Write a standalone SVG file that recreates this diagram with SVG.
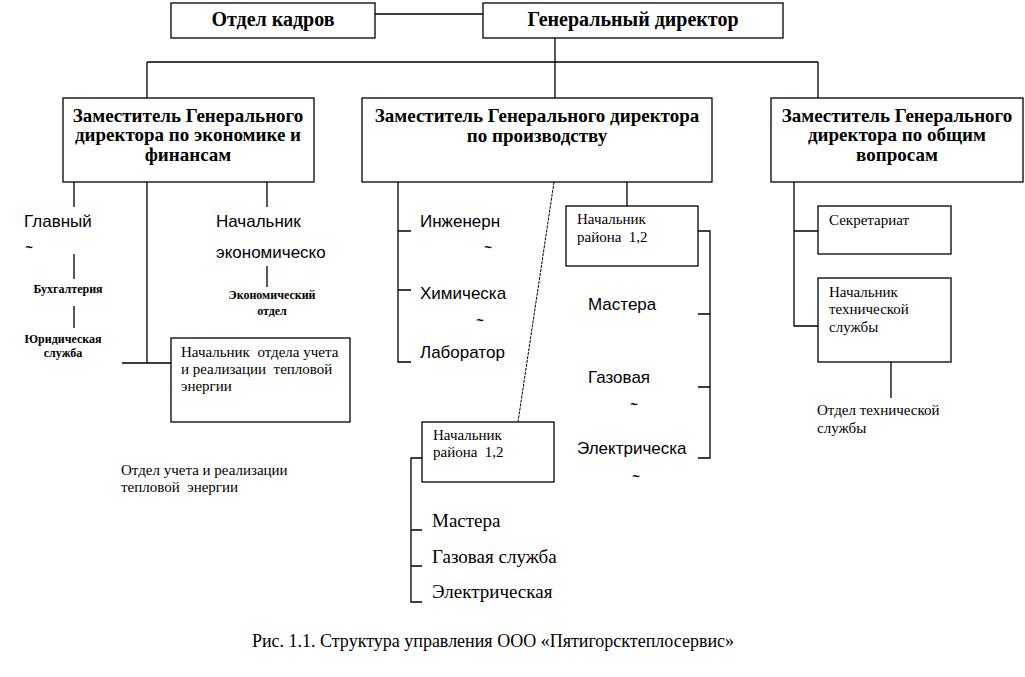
<svg xmlns="http://www.w3.org/2000/svg" width="1025" height="677" viewBox="0 0 1025 677">
<style>
text{white-space:pre}
.box{fill:#fff;stroke:#000;stroke-width:1.3}
.ln{fill:none;stroke:#000;stroke-width:1.3}
.hb{font-family:"Liberation Serif","Times New Roman",serif;font-weight:bold;font-size:19px;fill:#000;text-anchor:middle}
.sb{font-family:"Liberation Serif","Times New Roman",serif;font-weight:bold;font-size:12px;fill:#000;text-anchor:middle}
.ss{font-family:"Liberation Sans",Arial,sans-serif;font-size:17px;fill:#000}
.sm{font-family:"Liberation Serif","Times New Roman",serif;font-size:15px;fill:#000}
.sl{font-family:"Liberation Serif","Times New Roman",serif;font-size:19px;fill:#000}
.tl{font-family:"Liberation Sans",Arial,sans-serif;font-size:13px;font-weight:bold;fill:#000;text-anchor:middle}
</style>
<rect width="1025" height="677" fill="#fff"/>
<g id="connectors">
<path class="ln" d="M375 14H483M555 38V98M147 62H818M147 62V98M818 62V98"/>
<path class="ln" d="M74 182V207M147 182V363M267 182V207M74 254V279M74 306V328M267 266V287M122 363H171"/>
<path class="ln" d="M398 182V362H411M398 231H411M398 290H411M627 182V206M698 231H710V458H698M698 314H710M698 387H710"/>
<path class="ln" d="M554 182L518 422" style="stroke-width:1;stroke-dasharray:3 1"/>
<path class="ln" d="M422 458H411V602H422M411 530H422M411 566H422"/>
<path class="ln" d="M794 182V326H818M794 231H818M891 362V398"/>
</g>
<g id="otdel-kadrov"><rect class="box" x="171" y="3" width="204" height="35"/><text class="hb" x="273" y="26" style="font-size:20px">Отдел кадров</text></g>
<g id="gen-director"><rect class="box" x="483" y="3" width="300" height="35"/><text class="hb" x="633" y="26" style="font-size:20px">Генеральный директор</text></g>
<g id="zam-econ"><rect class="box" x="63" y="98" width="251" height="84"/><text class="hb" x="188" y="122">Заместитель Генерального</text><text class="hb" x="188" y="141">директора по экономике и</text><text class="hb" x="188" y="161">финансам</text></g>
<g id="zam-prod"><rect class="box" x="362" y="98" width="350" height="84"/><text class="hb" x="537" y="122">Заместитель Генерального директора</text><text class="hb" x="537" y="142">по производству</text></g>
<g id="zam-general"><rect class="box" x="771" y="98" width="252" height="84"/><text class="hb" x="897" y="122">Заместитель Генерального</text><text class="hb" x="897" y="141">директора по общим</text><text class="hb" x="897" y="161">вопросам</text></g>
<g id="glavny"><text class="ss" x="24" y="227">Главный</text><text class="tl" x="29" y="252">~</text></g>
<g id="buh"><text class="sb" x="68" y="293">Бухгалтерия</text></g>
<g id="yur"><text class="sb" x="63" y="343">Юридическая</text><text class="sb" x="63" y="357">служба</text></g>
<g id="nach-econ"><text class="ss" x="216" y="227">Начальник</text><text class="ss" x="216" y="258">экономическо</text></g>
<g id="econ-otdel"><text class="sb" x="272" y="299">Экономический</text><text class="sb" x="272" y="315">отдел</text></g>
<g id="nach-uchet"><rect class="box" x="171" y="338" width="179" height="84"/><text class="sm" x="181" y="357">Начальник  отдела учета</text><text class="sm" x="181" y="374">и реализации  тепловой</text><text class="sm" x="181" y="391">энергии</text></g>
<g id="otdel-uchet"><text class="sm" x="121" y="475">Отдел учета и реализации</text><text class="sm" x="121" y="492">тепловой  энергии</text></g>
<g id="inzh"><text class="ss" x="420" y="227">Инженерн</text><text class="tl" x="488" y="252">~</text></g>
<g id="chem"><text class="ss" x="420" y="299">Химическа</text><text class="tl" x="480" y="325">~</text></g>
<g id="lab"><text class="ss" x="420" y="358">Лаборатор</text></g>
<g id="nach-rayon-1"><rect class="box" x="566" y="206" width="132" height="60"/><text class="sm" x="577" y="224">Начальник</text><text class="sm" x="577" y="242">района  1,2</text></g>
<g id="mastera-1"><text class="ss" x="588" y="310">Мастера</text></g>
<g id="gaz-1"><text class="ss" x="588" y="383">Газовая</text><text class="tl" x="634" y="409">~</text></g>
<g id="elec-1"><text class="ss" x="577" y="454">Электрическа</text><text class="tl" x="636" y="481">~</text></g>
<g id="nach-rayon-2"><rect class="box" x="422" y="422" width="132" height="60"/><text class="sm" x="433" y="440">Начальник</text><text class="sm" x="433" y="457">района  1,2</text></g>
<g id="mastera-2"><text class="sl" x="432" y="527">Мастера</text></g>
<g id="gaz-2"><text class="sl" x="432" y="563">Газовая служба</text></g>
<g id="elec-2"><text class="sl" x="432" y="598">Электрическая</text></g>
<g id="sekretariat"><rect class="box" x="818" y="206" width="133" height="48"/><text class="sm" x="829" y="225">Секретариат</text></g>
<g id="nach-tech"><rect class="box" x="818" y="278" width="133" height="84"/><text class="sm" x="829" y="297">Начальник</text><text class="sm" x="829" y="314">технической</text><text class="sm" x="829" y="332">службы</text></g>
<g id="otdel-tech"><text class="sm" x="817" y="415">Отдел технической</text><text class="sm" x="817" y="433">службы</text></g>
<text class="sl" x="493" y="647" style="text-anchor:middle;font-size:18px">Рис. 1.1. Структура управления ООО «Пятигорсктеплосервис»</text>
</svg>
